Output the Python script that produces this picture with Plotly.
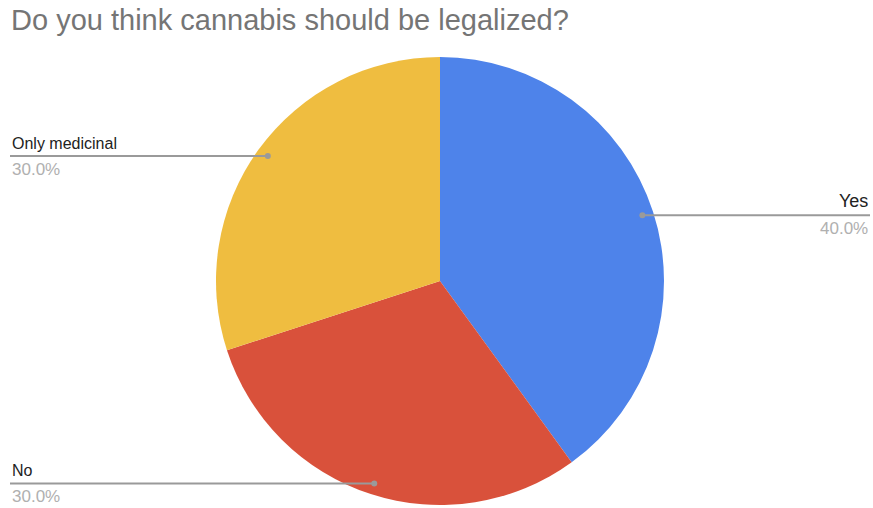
import numpy as np
import plotly.graph_objects as go

# Survey answers and their shares
labels = ["Yes", "No", "Only medicinal"]
values = [40, 30, 30]
colors = ["#4e83ea", "#d9513b", "#efbd40"]

W, H = 873, 508
cx, cy, R = 440, 281, 224          # pie centre and radius in pixels
dot_frac = 0.95                    # where the leader dot sits along the radius
FONT = "Liberation Sans, Arial, sans-serif"

fig = go.Figure()
fig.add_trace(go.Pie(
    labels=labels, values=values, sort=False, direction="clockwise", rotation=0,
    marker=dict(colors=colors, line=dict(width=0)),
    textinfo="none", hoverinfo="label+percent", showlegend=False,
    domain=dict(x=[(cx - R) / W, (cx + R) / W], y=[1 - (cy + R) / H, 1 - (cy - R) / H]),
))

def px(x):
    return x / W

def py(y):
    return 1 - y / H

total = sum(values)
start = 0.0
shapes, annotations = [], []
for lab, v in zip(labels, values):
    frac = v / total
    mid = (start + frac / 2) * 2 * np.pi
    start += frac
    dx = cx + dot_frac * R * np.sin(mid)
    dy = cy - dot_frac * R * np.cos(mid)
    right = np.sin(mid) > 0
    x_end = 870 if right else 10
    shapes.append(dict(type="line", xref="paper", yref="paper",
                       x0=px(dx), y0=py(dy), x1=px(x_end), y1=py(dy),
                       line=dict(color="#9a9a9a", width=2)))
    shapes.append(dict(type="circle", xref="paper", yref="paper",
                       x0=px(dx - 3), x1=px(dx + 3), y0=py(dy + 3), y1=py(dy - 3),
                       fillcolor="#9a9a9a", line=dict(width=0)))
    anchor = "right" if right else "left"
    name_size = 18 if right else 16
    annotations.append(dict(xref="paper", yref="paper", x=px(x_end), y=py(dy - 2),
                            text=lab, showarrow=False, xanchor=anchor, yanchor="bottom",
                            font=dict(family=FONT, size=name_size, color="#222222")))
    annotations.append(dict(xref="paper", yref="paper", x=px(x_end), y=py(dy + 2),
                            text=f"{100 * frac:.1f}%", showarrow=False, xanchor=anchor, yanchor="top",
                            font=dict(family=FONT, size=17, color="#b0b0b0")))

# Title as a paper annotation so its box sits fully inside the page
annotations.append(dict(xref="paper", yref="paper", x=9 / W, y=1 - 2 / H,
                        xanchor="left", yanchor="top", showarrow=False,
                        text="Do you think cannabis should be legalized?",
                        font=dict(family=FONT, size=29, color="#757575")))

fig.update_layout(
    width=W, height=H, margin=dict(l=0, r=0, t=0, b=0),
    paper_bgcolor="white", plot_bgcolor="white",
    shapes=shapes, annotations=annotations,
)

fig.write_html("out.html")
